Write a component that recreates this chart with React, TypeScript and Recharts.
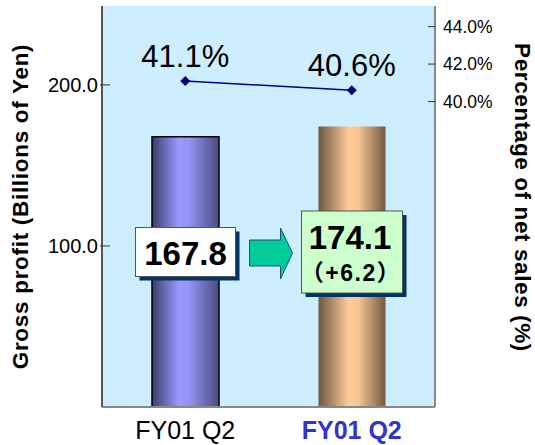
import React from "react";
import { ComposedChart, Bar, Line, XAxis, YAxis, CartesianGrid, LabelList, Cell } from "recharts";

const categories = ["FY01 Q2", "FY01 Q2"];
const grossProfit = [167.8, 174.1];
const grossMargin = [41.1, 40.6];
const changeLabels = ["", "（+6.2）"];
const profitTicks = [100, 200];
const marginTicks = [40, 42, 44];

const data = categories.map((name, i) => ({
  name,
  profit: grossProfit[i],
  margin: grossMargin[i],
  change: changeLabels[i],
}));

const font = "Arial, 'Liberation Sans', sans-serif";

function LeftTick({ x, y, payload }: any) {
  return (
    <g>
      <line x1={x + 2} x2={x + 12} y1={y} y2={y} stroke="#333" strokeWidth={1} />
      <text x={x} y={y} dy="0.355em" textAnchor="end" fontSize={20} fontFamily={font} fill="#000">
        {Number(payload.value).toFixed(1)}
      </text>
    </g>
  );
}

function RightTick({ x, y, payload }: any) {
  return (
    <g>
      <line x1={x - 15} x2={x - 8} y1={y} y2={y} stroke="#333" strokeWidth={1} />
      <text x={x} y={y} dy="0.355em" textAnchor="start" fontSize={17.5} fontFamily={font} fill="#000">
        {Number(payload.value).toFixed(1)}%
      </text>
    </g>
  );
}

function CategoryTick({ x, y, payload, index }: any) {
  const current = index === categories.length - 1;
  return (
    <text
      x={x}
      y={y + 30}
      textAnchor="middle"
      fontSize={25}
      fontFamily={font}
      fontWeight={current ? "bold" : "normal"}
      fill={current ? "#3333cc" : "#000"}
    >
      {payload.value}
    </text>
  );
}

function Diamond({ cx, cy }: any) {
  if (cx == null || cy == null) return null;
  return <polygon points={`${cx},${cy - 5} ${cx + 5},${cy} ${cx},${cy + 5} ${cx - 5},${cy}`} fill="#000080" />;
}

function MarginLabel({ x, y, value }: any) {
  return (
    <text x={x} y={y - 14} textAnchor="middle" fontSize={31} fontFamily={font} fill="#000">
      {Number(value).toFixed(1)}%
    </text>
  );
}

function ValueBox({ x, y, width, height, value, index }: any) {
  const cx = x + width / 2;
  const cy = y + height - 155;
  const change = changeLabels[index];
  if (!change) {
    const w = 100;
    const h = 49;
    return (
      <g>
        <rect x={cx - w / 2 + 4} y={cy - h / 2 + 4} width={w} height={h} fill="#003366" />
        <rect x={cx - w / 2} y={cy - h / 2} width={w} height={h} fill="#fff" stroke="#555" strokeWidth={1} />
        <text x={cx} y={cy + 13} textAnchor="middle" fontSize={33} fontWeight="bold" fontFamily={font} fill="#000">
          {Number(value).toFixed(1)}
        </text>
      </g>
    );
  }
  const w = 101;
  const h = 82;
  const left = cx - w / 2;
  const tip = left - 9;
  const mid = cy + 1;
  const arrow = [
    [tip - 43, mid - 13],
    [tip - 12, mid - 13],
    [tip - 12, mid - 25],
    [tip, mid],
    [tip - 12, mid + 26],
    [tip - 12, mid + 13],
    [tip - 43, mid + 13],
  ]
    .map((p) => p.join(","))
    .join(" ");
  return (
    <g>
      <polygon points={arrow} fill="#00cc99" stroke="#1f4f7f" strokeWidth={1} />
      <rect x={left + 4} y={cy - h / 2 + 4} width={w} height={h} fill="#003366" />
      <rect x={left} y={cy - h / 2} width={w} height={h} fill="#ccffcc" stroke="#555" strokeWidth={1} />
      <text x={cx - 2} y={cy - 3} textAnchor="middle" fontSize={33} fontWeight="bold" fontFamily={font} fill="#000">
        {Number(value).toFixed(1)}
      </text>
      <text
        x={cx - 1}
        y={cy + 29}
        textAnchor="middle"
        fontSize={23}
        fontWeight="bold"
        letterSpacing={1.5}
        fontFamily={`${font}, 'Noto Sans CJK JP'`}
        fill="#000"
      >
        {change}
      </text>
    </g>
  );
}

export default function App() {
  return (
    <div style={{ position: "absolute", left: 0, top: 0 }}>
      <ComposedChart width={535} height={445} data={data} margin={{ top: 6, right: 0, bottom: 0, left: 0 }}>
        <defs>
          <linearGradient id="blueBar" x1="0" x2="1" y1="0" y2="0">
            <stop offset="0" stopColor="#3c3c6a" />
            <stop offset="0.4" stopColor="#9999ff" />
            <stop offset="0.55" stopColor="#9494f5" />
            <stop offset="1" stopColor="#4a4a80" />
          </linearGradient>
          <linearGradient id="tanBar" x1="0" x2="1" y1="0" y2="0">
            <stop offset="0" stopColor="#6e5640" />
            <stop offset="0.45" stopColor="#ffcc99" />
            <stop offset="0.6" stopColor="#f7c494" />
            <stop offset="1" stopColor="#73593f" />
          </linearGradient>
        </defs>
        <CartesianGrid horizontal={false} vertical={false} fill="#cceeff" />
        <XAxis
          dataKey="name"
          height={38}
          tickLine={false}
          tickSize={0}
          axisLine={{ stroke: "#888", strokeWidth: 2 }}
          tick={<CategoryTick />}
          interval={0}
        />
        <XAxis xAxisId="top" dataKey="name" orientation="top" height={0} tick={false} tickLine={false} axisLine={{ stroke: "#999", strokeWidth: 2 }} />
        <YAxis
          yAxisId="left"
          width={102}
          domain={[0, 249]}
          ticks={profitTicks}
          tickLine={false}
          tickSize={0}
          tickMargin={4}
          axisLine={{ stroke: "#555", strokeWidth: 2 }}
          tick={<LeftTick />}
          label={({ viewBox }: any) => (
            <text
              x={viewBox.x + 20}
              y={viewBox.y + viewBox.height / 2}
              transform={`rotate(-90, ${viewBox.x + 20}, ${viewBox.y + viewBox.height / 2})`}
              textAnchor="middle"
              dominantBaseline="central"
              fontSize={22.5}
              letterSpacing={0.7}
              fontWeight="bold"
              fontFamily={font}
              fill="#000"
            >
              Gross profit (Billions of Yen)
            </text>
          )}
        />
        <YAxis
          yAxisId="right"
          orientation="right"
          width={100}
          domain={[23.7, 45.1]}
          ticks={marginTicks}
          tickLine={false}
          tickSize={0}
          tickMargin={8}
          axisLine={{ stroke: "#888", strokeWidth: 2 }}
          tick={<RightTick />}
          label={({ viewBox }: any) => (
            <text
              x={viewBox.x + 87}
              y={viewBox.y + viewBox.height / 2 - 9}
              transform={`rotate(90, ${viewBox.x + 87}, ${viewBox.y + viewBox.height / 2 - 9})`}
              textAnchor="middle"
              dominantBaseline="central"
              fontSize={22.5}
              letterSpacing={0.6}
              fontWeight="bold"
              fontFamily={font}
              fill="#000"
            >
              Percentage of net sales (%)
            </text>
          )}
        />
        <Bar yAxisId="left" dataKey="profit" barSize={67} isAnimationActive={false}>
          {data.map((d, i) => (
            <Cell key={i} fill={i === 0 ? "url(#blueBar)" : "url(#tanBar)"} stroke={i === 0 ? "#000" : "none"} strokeWidth={1.5} />
          ))}
          <LabelList dataKey="profit" content={<ValueBox />} />
        </Bar>
        <Line
          yAxisId="right"
          dataKey="margin"
          stroke="#000080"
          strokeWidth={1.5}
          dot={<Diamond />}
          activeDot={false}
          isAnimationActive={false}
        >
          <LabelList dataKey="margin" content={<MarginLabel />} />
        </Line>
      </ComposedChart>
    </div>
  );
}
